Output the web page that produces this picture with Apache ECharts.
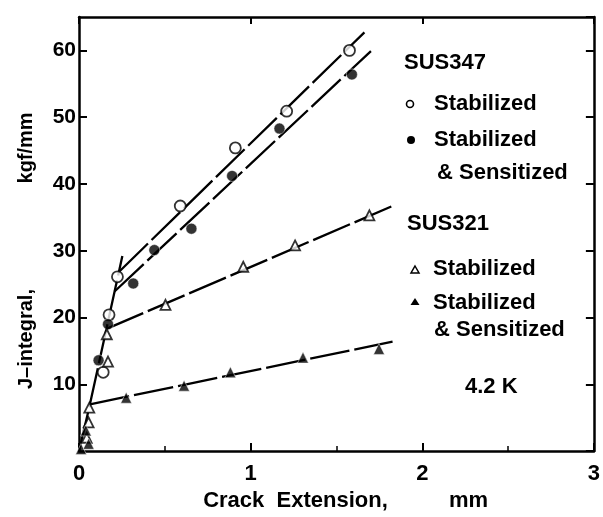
<!DOCTYPE html>
<html><head><meta charset="utf-8">
<script src="https://cdn.jsdelivr.net/npm/echarts@6/dist/echarts.min.js"></script>
<style>html,body{margin:0;padding:0;background:#fff}#c{width:603px;height:517px}</style>
</head><body><div id="c"></div>
<script>
// Axis ticks
const xTickValues = [0, 1, 2, 3];
const yTickValues = [10, 20, 30, 40, 50, 60];

// SUS347 Stabilized (open circles)
const sus347StabX = [0.141, 0.175, 0.224, 0.590, 0.911, 1.210, 1.576];
const sus347StabY = [11.8, 20.4, 26.1, 36.7, 45.4, 50.9, 60.0];
// SUS347 Stabilized & Sensitized (filled circles)
const sus347SensX = [0.114, 0.169, 0.316, 0.439, 0.655, 0.892, 1.168, 1.590];
const sus347SensY = [13.6, 19.0, 25.1, 30.1, 33.3, 41.2, 48.3, 56.4];
// SUS321 Stabilized (open triangles)
const sus321StabX = [0.045, 0.056, 0.060, 0.169, 0.162, 0.504, 0.957, 1.259, 1.692];
const sus321StabY = [2.0, 4.3, 6.5, 13.4, 17.5, 21.9, 27.6, 30.8, 35.3];
// SUS321 Stabilized & Sensitized (filled triangles)
const sus321SensX = [0.012, 0.056, 0.040, 0.275, 0.612, 0.882, 1.305, 1.748];
const sus321SensY = [0.3, 1.1, 3.1, 8.0, 9.8, 11.8, 14.0, 15.3];

// Fitted lines
const steepLineX = [0, 0.0636, 0.2526];
const steepLineY = [0, 7.0, 29.2];
const sus321SensLineX = [0.0636, 1.827];
const sus321SensLineY = [7.0, 16.4];
const sus321StabLineX = [0.160, 1.827];
const sus321StabLineY = [18.3, 36.7];
const sus347SensLineX = [0.207, 1.701];
const sus347SensLineY = [23.9, 59.9];
const sus347StabLineX = [0.235, 1.663];
const sus347StabLineY = [26.9, 62.7];

const zip = (xs, ys) => xs.map((x, i) => [x, ys[i]]);
const FONT = '"Liberation Sans", Arial, Helvetica, sans-serif';

const lineSeries = (xs, ys) => ({
  type: 'line', data: zip(xs, ys), showSymbol: false, silent: true, z: 1,
  lineStyle: { color: '#000', width: 2.3, type: [40, 5] }
});
const scatter = (xs, ys, symbol, size, filled) => ({
  type: 'scatter', data: zip(xs, ys), symbol: symbol, symbolSize: size, z: 3,
  itemStyle: filled ? { color: '#000', borderColor: '#fff', borderWidth: 0.6 }
                    : { color: '#fff', borderColor: '#000', borderWidth: 1.8 }
});

const txt = (s, x, y, size) => ({
  type: 'text', x: x, y: y,
  style: { text: s, fill: '#000', font: 'bold ' + (size || 22) + 'px ' + FONT, verticalAlign: 'middle', align: 'left' }
});

const axisLineStyle = { show: true, onZero: false, lineStyle: { color: '#000', width: 2.5 } };
const tickStyle = (len) => ({ show: true, inside: true, length: len, lineStyle: { color: '#000', width: 2 } });

const chart = echarts.init(document.getElementById('c'));
chart.setOption({
  animation: false,
  backgroundColor: '#fff',
  grid: { left: 79, right: 5, top: 17, bottom: 56 },
  xAxis: [{
    type: 'value', min: 0, max: 3, interval: 1, position: 'bottom',
    name: '   Crack  Extension,          mm', nameLocation: 'middle', nameGap: 29,
    nameTextStyle: { fontFamily: FONT, fontWeight: 'bold', fontSize: 22, color: '#000' },
    axisLine: axisLineStyle,
    axisTick: tickStyle(8),
    minorTick: { show: true, splitNumber: 2, length: 5, lineStyle: { color: '#000', width: 1.5 } },
    splitLine: { show: false }, minorSplitLine: { show: false },
    axisLabel: { fontFamily: FONT, fontWeight: 'bold', fontSize: 22, color: '#000', margin: 12,
      formatter: v => (xTickValues.indexOf(v) >= 0 ? String(v) : '') }
  }, {
    type: 'value', min: 0, max: 3, interval: 1, position: 'top',
    axisLine: axisLineStyle,
    axisTick: tickStyle(7),
    axisLabel: { show: false }, splitLine: { show: false }
  }],
  yAxis: [{
    type: 'value', min: 0, max: 65, interval: 10, position: 'left',
    name: 'J–integral,                   kgf/mm      ', nameLocation: 'middle', nameGap: 43,
    nameTextStyle: { fontFamily: FONT, fontWeight: 'bold', fontSize: 20, color: '#000' },
    axisLine: axisLineStyle,
    axisTick: tickStyle(8),
    splitLine: { show: false },
    axisLabel: { fontFamily: FONT, fontWeight: 'bold', fontSize: 21, color: '#000', margin: 3,
      showMinLabel: false, showMaxLabel: false,
      formatter: v => (yTickValues.indexOf(v) >= 0 ? String(v) : '') }
  }, {
    type: 'value', min: 0, max: 65, interval: 10, position: 'right',
    axisLine: axisLineStyle,
    axisTick: tickStyle(8),
    axisLabel: { show: false }, splitLine: { show: false }
  }],
  series: [
    lineSeries(steepLineX, steepLineY),
    lineSeries(sus321SensLineX, sus321SensLineY),
    lineSeries(sus321StabLineX, sus321StabLineY),
    lineSeries(sus347SensLineX, sus347SensLineY),
    lineSeries(sus347StabLineX, sus347StabLineY),
    scatter(sus347StabX, sus347StabY, 'circle', 11, false),
    scatter(sus347SensX, sus347SensY, 'circle', 11, true),
    scatter(sus321StabX, sus321StabY, 'triangle', 10, false),
    scatter(sus321SensX, sus321SensY, 'triangle', 11, true)
  ],
  graphic: [
    txt('SUS347', 404, 63),
    { type: 'circle', shape: { cx: 410, cy: 104, r: 3.5 }, style: { fill: '#fff', stroke: '#000', lineWidth: 1.6 } },
    txt('Stabilized', 434, 104),
    { type: 'circle', shape: { cx: 411, cy: 140, r: 4 }, style: { fill: '#000' } },
    txt('Stabilized', 434, 140),
    txt('& Sensitized', 437, 173),
    txt('SUS321', 407, 224),
    { type: 'polygon', shape: { points: [[415, 266], [419, 273], [411, 273]] }, style: { fill: '#fff', stroke: '#000', lineWidth: 1.5 } },
    txt('Stabilized', 433, 269),
    { type: 'polygon', shape: { points: [[415, 298], [419.5, 305], [410.5, 305]] }, style: { fill: '#000' } },
    txt('Stabilized', 433, 303),
    txt('& Sensitized', 434, 330),
    txt('4.2 K', 465, 387)
  ]
});
</script>
</body></html>
